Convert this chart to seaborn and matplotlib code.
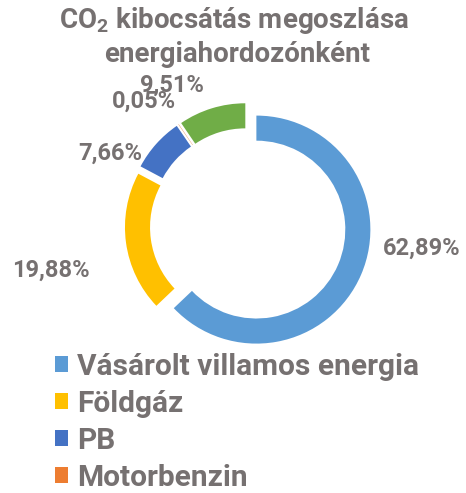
import matplotlib
matplotlib.use("Agg")
import matplotlib.pyplot as plt
from matplotlib.patches import Patch
import seaborn as sns

categories = ["Vásárolt villamos energia", "Földgáz", "PB", "Motorbenzin", "Gázolaj"]
shares = [62.89, 19.88, 7.66, 0.05, 9.51]
legend_count = 4  # the last entry is cut off in the original picture

# label centres relative to the ring centre, in ring radii
label_pos = [(1.526, -0.193), (-1.728, -0.386), (-1.211, 0.640), (-0.912, 1.096), (-0.667, 1.237)]

sns.set_theme(style="white")
plt.rcParams['font.family'] = ['Roboto', 'DejaVu Sans']
plt.rcParams['mathtext.default'] = 'regular'
colors = sns.color_palette(["#5B9BD5", "#FFC000", "#4472C4", "#ED7D31", "#70AD47"])
text_col = "#767171"

W, H = 466, 493
cx, cy, R = 248, 226, 114  # pixels from top-left
fig = plt.figure(figsize=(W / 100, H / 100), dpi=100)
ax = fig.add_axes([0, 0, 1, 1])

wedges, _ = ax.pie(shares, colors=colors, startangle=90, counterclock=False,
                   radius=1.0, explode=[0.08] * len(shares),
                   wedgeprops=dict(width=0.22, edgecolor="white", linewidth=0))
ax.set_aspect("auto")
ax.set_xlim(-cx / R, (W - cx) / R)
ax.set_ylim(-(H - cy) / R, cy / R)
ax.axis("off")

for v, (lx, ly) in zip(shares, label_pos):
    ax.text(lx, ly, f"{v:.2f}%".replace(".", ","), ha="center", va="center",
            fontsize=17, fontweight="bold", color=text_col)

fig.text(234 / W, 1 - 21 / H, "CO$_2$ kibocsátás megoszlása", ha="center", va="center",
         fontsize=20, fontweight="bold", color=text_col)
fig.text(237 / W, 1 - 55 / H, "energiahordozónként", ha="center", va="center",
         fontsize=20, fontweight="bold", color=text_col)

handles = [Patch(facecolor=colors[i], edgecolor="none") for i in range(legend_count)]
fig.legend(handles, categories[:legend_count], loc="upper left",
           bbox_to_anchor=(55 / W, 1 - 353 / H), frameon=False,
           prop=dict(size=21.5, weight="bold"), labelcolor=text_col,
           handlelength=0.45, handleheight=0.45, handletextpad=0.3,
           labelspacing=0.3, borderpad=0, borderaxespad=0)

fig.savefig("out.png", dpi=100)
